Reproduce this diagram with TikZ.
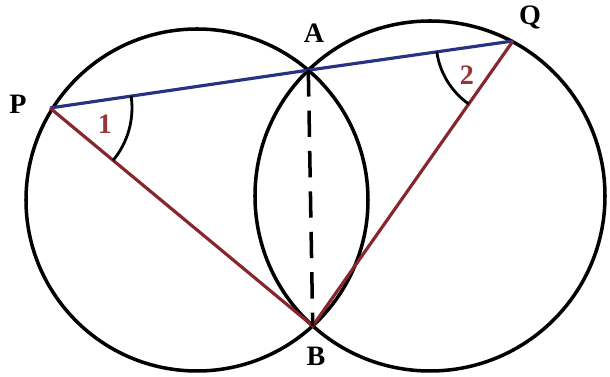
\documentclass[tikz,border=0pt]{standalone}
\usepackage{fontspec}
\setmainfont{Liberation Serif}
\usetikzlibrary{calc, angles, intersections}
\definecolor{chordblue}{RGB}{40,50,130}
\definecolor{chordred}{RGB}{135,38,45}
\definecolor{numred}{RGB}{150,55,55}
\begin{document}
\begin{tikzpicture}[x=0.02cm, y=-0.02cm, line width=2pt,
  ptlabel/.style={font=\fontsize{16}{19}\selectfont\bfseries},
  numlabel/.style={font=\fontsize{16}{19}\selectfont\bfseries, text=numred},
]
  \useasboundingbox (0,0) rectangle (610,377);
  \coordinate (O1) at (197,200);
  \coordinate (O2) at (430,196);
  \draw[name path=left] (O1) circle[radius=171];
  \draw[name path=right] (O2) circle[radius=175];
  \path[name intersections={of=left and right, by={I1,I2}}];
  \coordinate (A) at (I2);
  \coordinate (B) at (I1);
  \coordinate (P) at (50,108);
  \coordinate (Q) at (513,41);
  \draw[chordblue, line width=1.8pt] (P) -- (A) -- (Q);
  \draw[chordred, line width=1.8pt] (P) -- (B) -- (Q);
  \draw[dashed, dash pattern=on 15 off 8] (A) -- (B);
  \draw pic[draw, line width=1.6pt, angle radius=1.64cm] {angle = B--P--A};
  \draw pic[draw, line width=1.6pt, angle radius=1.54cm] {angle = A--Q--B};
  \node[ptlabel] (lP) at (18,104) {P};
  \node[ptlabel] (lA) at (314,33) {A};
  \node[ptlabel] (lQ) at (530,17) {Q};
  \node[ptlabel] (lB) at (316,356) {B};
  \node[numlabel] (n1) at (105,124) {1};
  \node[numlabel] (n2) at (467,75) {2};
\end{tikzpicture}
\end{document}
